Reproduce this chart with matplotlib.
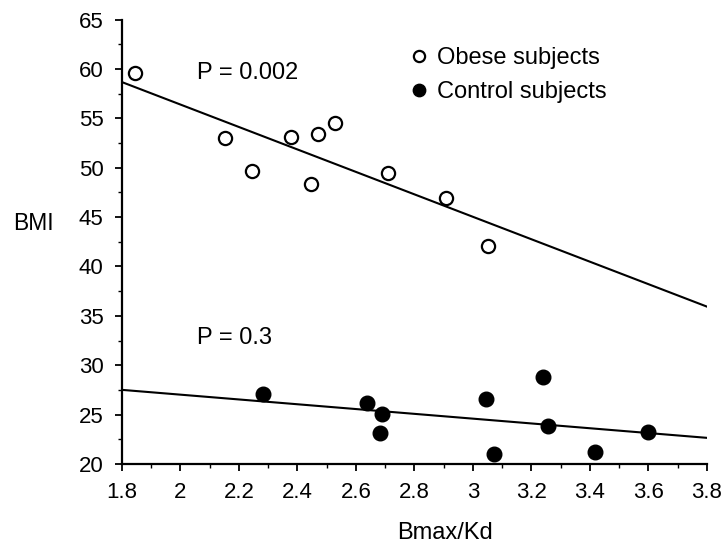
import numpy as np
import matplotlib.pyplot as plt
from matplotlib.ticker import MultipleLocator

plt.rcParams['font.family'] = ['Liberation Sans', 'DejaVu Sans']

# obese subjects (open circles)
obese_x = [1.845, 2.152, 2.245, 2.377, 2.448, 2.471, 2.529, 2.710, 2.907, 3.051]
obese_y = [59.6, 53.0, 49.7, 53.1, 48.4, 53.4, 54.5, 49.5, 46.9, 42.1]

# control subjects (filled circles)
ctrl_x = [2.282, 2.638, 2.688, 2.681, 3.046, 3.074, 3.240, 3.257, 3.416, 3.598]
ctrl_y = [27.1, 26.2, 25.1, 23.1, 26.6, 21.0, 28.8, 23.85, 21.2, 23.2]

x_ticks = [1.8, 2, 2.2, 2.4, 2.6, 2.8, 3, 3.2, 3.4, 3.6, 3.8]
x_tick_labels = ['1.8', '2', '2.2', '2.4', '2.6', '2.8', '3', '3.2', '3.4', '3.6', '3.8']
y_ticks = [20, 25, 30, 35, 40, 45, 50, 55, 60, 65]

W, H = 725, 544
fig = plt.figure(figsize=(W / 100, H / 100), dpi=100)
ax = fig.add_axes([0.168, 0.147, 0.807, 0.817])

# regression lines over the full x range
xx = np.array([1.8, 3.8])
for xs, ys in [(obese_x, obese_y), (ctrl_x, ctrl_y)]:
    k, b = np.polyfit(xs, ys, 1)
    ax.plot(xx, k * xx + b, color='black', lw=1.5, zorder=2)

ax.plot(obese_x, obese_y, 'o', ms=9.5, mfc='white', mec='black', mew=1.6,
        label='Obese subjects', zorder=3)
ax.plot(ctrl_x, ctrl_y, 'o', ms=10.5, mfc='black', mec='black',
        label='Control subjects', zorder=3)

ax.text(2.057, 59.6, 'P = 0.002', fontsize=17, va='center', ha='left')
ax.text(2.057, 32.8, 'P = 0.3', fontsize=17, va='center', ha='left')

ax.set_xlim(1.8, 3.8)
ax.set_ylim(20, 65)
ax.set_xticks(x_ticks)
ax.set_xticklabels(x_tick_labels)
ax.set_yticks(y_ticks)
ax.xaxis.set_minor_locator(MultipleLocator(0.1))
ax.yaxis.set_minor_locator(MultipleLocator(2.5))
ax.tick_params(which='major', length=5, width=1.3, labelsize=16, direction='out')
ax.tick_params(axis='x', which='major', pad=8)
ax.tick_params(axis='y', which='major', pad=8)
ax.tick_params(which='minor', length=3, width=1.0, direction='out')

for s in ['top', 'right']:
    ax.spines[s].set_visible(False)
for s in ['left', 'bottom']:
    ax.spines[s].set_linewidth(1.6)

fig.text(445 / W, 1 - 533 / H, 'Bmax/Kd', fontsize=17, ha='center', va='center')
fig.text(33 / W, 1 - 224 / H, 'BMI', fontsize=16.5, ha='center', va='center')

leg = ax.legend(loc='upper left', bbox_to_anchor=(412 / W, 1 - 47 / H),
                bbox_transform=fig.transFigure, frameon=False,
                fontsize=17, handlelength=0.6, handletextpad=0.47,
                labelspacing=0.5, markerscale=0.85,
                borderpad=0, borderaxespad=0)

fig.savefig('out.png', dpi=100)
